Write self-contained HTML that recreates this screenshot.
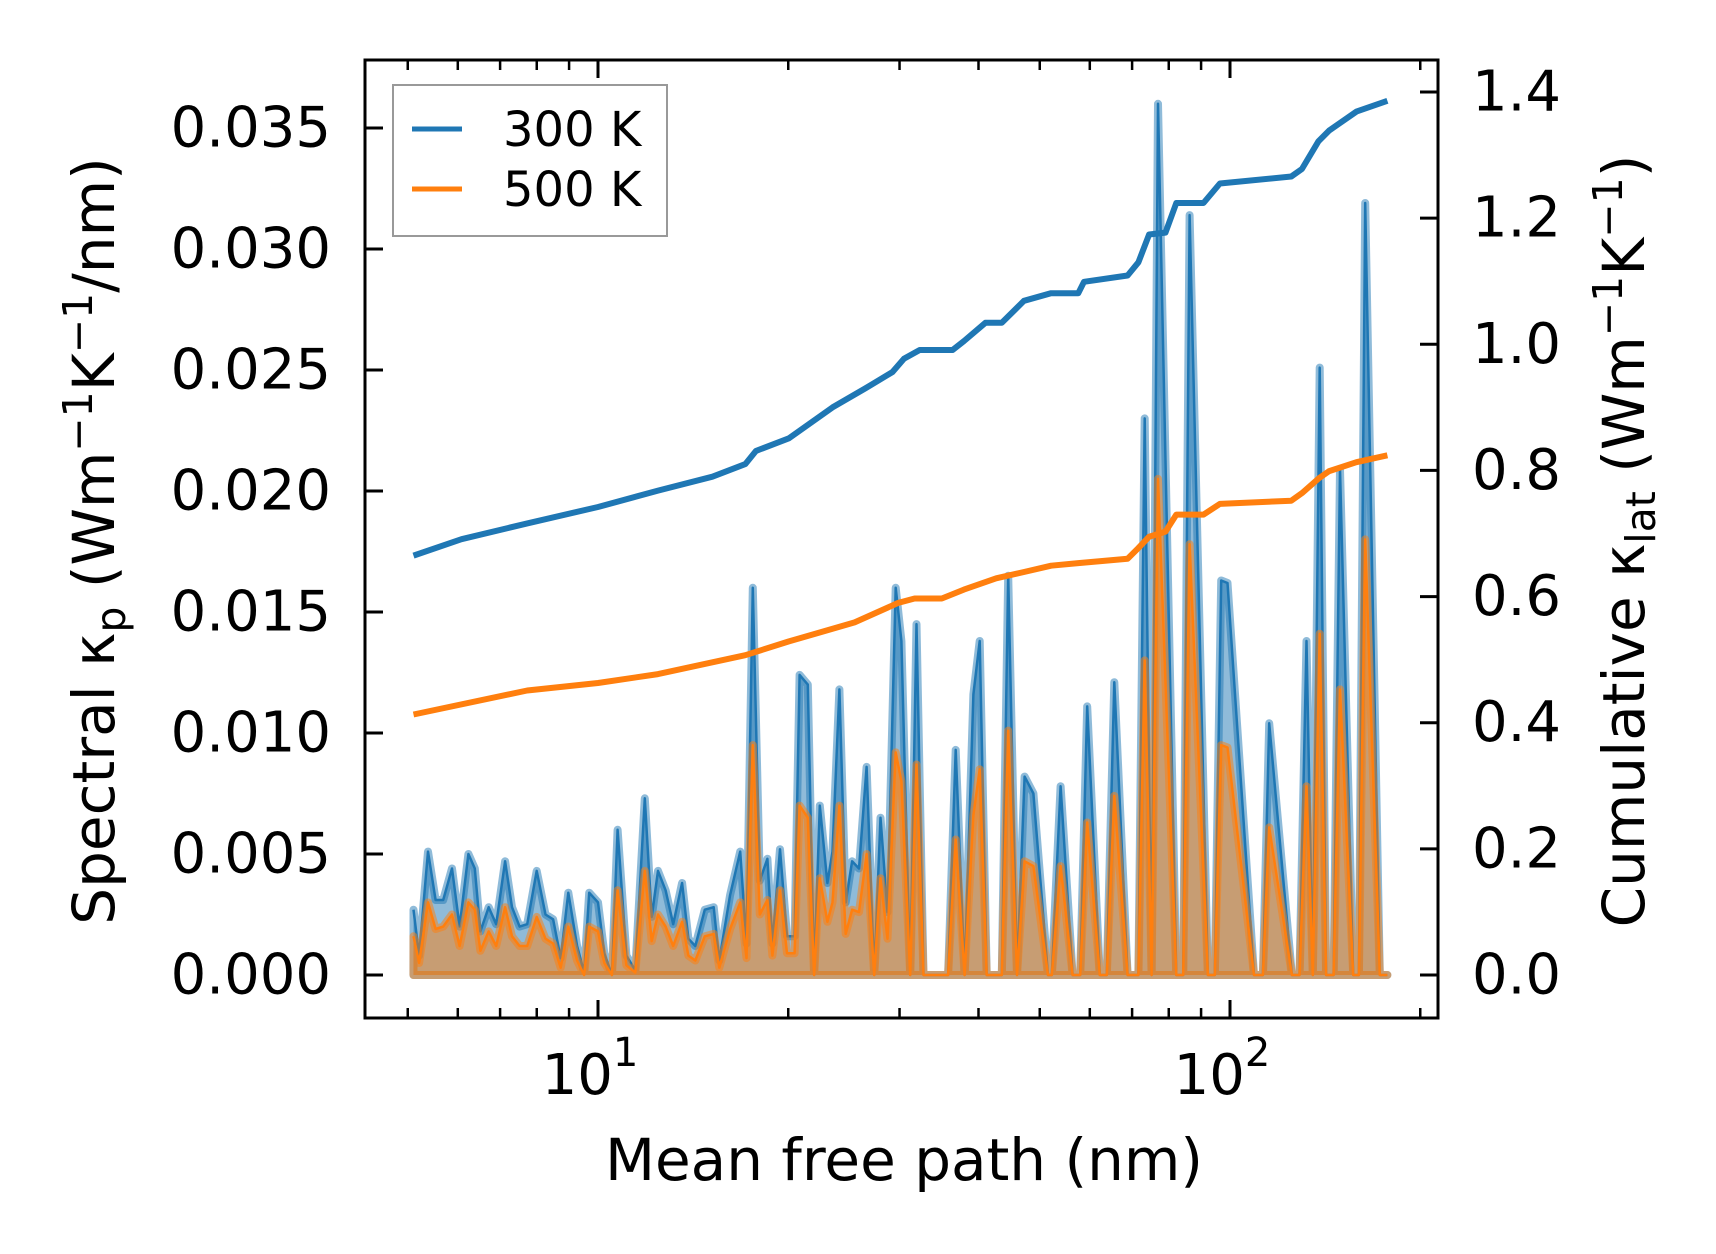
<!DOCTYPE html>
<html><head><meta charset="utf-8">
<style>
html,body{margin:0;padding:0;background:#fff;}
svg{display:block;font-family:"DejaVu Sans","Liberation Sans",sans-serif;}
</style></head>
<body>
<svg id="chart" width="1716" height="1254" viewBox="0 0 1716 1254" xmlns="http://www.w3.org/2000/svg">
<g id="plot"></g>
<g id="axes"></g>
<g id="legend">
  <rect x="393" y="85" width="274" height="151" fill="#fff" fill-opacity="0.8" stroke="#999" stroke-width="2"/>
  <line x1="412" y1="129" x2="462" y2="129" stroke="#1f77b4" stroke-width="5"/>
  <text x="503" y="146" font-size="48">300 K</text>
  <line x1="412" y1="189" x2="462" y2="189" stroke="#ff7f0e" stroke-width="5"/>
  <text x="503" y="206" font-size="48">500 K</text>
</g>
<text x="904" y="1180" font-size="58" text-anchor="middle">Mean free path (nm)</text>
<text transform="translate(114,541) rotate(-90)" font-size="58" text-anchor="middle">Spectral κ<tspan font-size="41" dy="11">p</tspan><tspan dy="-11"> (Wm</tspan><tspan font-size="41" dy="-22">−1</tspan><tspan dy="22">K</tspan><tspan font-size="41" dy="-22">−1</tspan><tspan dy="22">/nm)</tspan></text>
<text transform="translate(1644,541) rotate(-90)" font-size="58" text-anchor="middle">Cumulative κ<tspan font-size="41" dy="11">lat</tspan><tspan dy="-11"> (Wm</tspan><tspan font-size="41" dy="-22">−1</tspan><tspan dy="22">K</tspan><tspan font-size="41" dy="-22">−1</tspan><tspan dy="22">)</tspan></text>
</svg>
<script>
// Spectral data: log10(mean free path in nm), kappa spectral 300K, 500K
const specLogMfp = [0.708,0.717,0.731,0.743,0.755,0.769,0.781,0.795,0.805,0.814,0.827,0.839,0.853,0.864,0.876,0.888,0.903,0.917,0.929,0.941,0.953,0.967,0.978,0.986,1.000,1.010,1.022,1.031,1.045,1.059,1.074,1.085,1.095,1.107,1.119,1.133,1.143,1.154,1.169,1.183,1.192,1.209,1.225,1.235,1.245,1.256,1.268,1.276,1.288,1.299,1.311,1.319,1.332,1.342,1.351,1.363,1.371,1.382,1.392,1.402,1.413,1.425,1.437,1.447,1.458,1.471,1.480,1.494,1.504,1.515,1.554,1.566,1.580,1.594,1.604,1.615,1.639,1.649,1.663,1.675,1.689,1.712,1.718,1.732,1.751,1.763,1.774,1.794,1.805,1.817,1.838,1.855,1.865,1.876,1.886,1.915,1.926,1.936,1.965,1.976,1.986,1.996,2.038,2.052,2.062,2.098,2.110,2.121,2.131,2.142,2.152,2.164,2.174,2.195,2.204,2.214,2.237,2.249];
const spec300 = [0.0027,0.0008,0.0051,0.0031,0.0031,0.0044,0.0020,0.0050,0.0044,0.0018,0.0028,0.0021,0.0047,0.0028,0.0020,0.0021,0.0043,0.0025,0.0023,0.0007,0.0034,0.0012,0.0001,0.0034,0.0030,0.0009,0.0000,0.0060,0.0008,0.0002,0.0073,0.0024,0.0043,0.0035,0.0021,0.0038,0.0015,0.0012,0.0027,0.0028,0.0006,0.0033,0.0051,0.0013,0.0160,0.0039,0.0048,0.0013,0.0052,0.0016,0.0016,0.0124,0.0120,0.0000,0.0070,0.0038,0.0051,0.0118,0.0030,0.0047,0.0044,0.0086,0.0000,0.0065,0.0026,0.0160,0.0138,0.0000,0.0145,0.0000,0.0000,0.0093,0.0000,0.0116,0.0138,0.0000,0.0000,0.0165,0.0000,0.0082,0.0075,0.0000,0.0000,0.0078,0.0000,0.0000,0.0111,0.0000,0.0000,0.0121,0.0000,0.0000,0.0230,0.0000,0.0360,0.0000,0.0000,0.0314,0.0000,0.0000,0.0163,0.0162,0.0000,0.0000,0.0104,0.0000,0.0000,0.0138,0.0000,0.0251,0.0000,0.0000,0.0209,0.0000,0.0000,0.0319,0.0000,0.0000,0.0154];
const spec500 = [0.0016,0.0005,0.0030,0.0019,0.0020,0.0025,0.0012,0.0030,0.0027,0.0010,0.0018,0.0012,0.0028,0.0016,0.0012,0.0012,0.0024,0.0015,0.0013,0.0003,0.0020,0.0006,0.0000,0.0020,0.0018,0.0005,0.0000,0.0035,0.0004,0.0001,0.0043,0.0014,0.0025,0.0020,0.0012,0.0022,0.0008,0.0006,0.0016,0.0017,0.0003,0.0019,0.0030,0.0007,0.0095,0.0025,0.0031,0.0008,0.0035,0.0009,0.0009,0.0070,0.0065,0.0000,0.0040,0.0022,0.0030,0.0070,0.0017,0.0027,0.0026,0.0050,0.0000,0.0040,0.0015,0.0092,0.0080,0.0000,0.0087,0.0000,0.0000,0.0056,0.0000,0.0066,0.0085,0.0000,0.0000,0.0101,0.0000,0.0047,0.0045,0.0000,0.0000,0.0045,0.0000,0.0000,0.0063,0.0000,0.0000,0.0074,0.0000,0.0000,0.0130,0.0000,0.0205,0.0000,0.0000,0.0178,0.0000,0.0000,0.0095,0.0094,0.0000,0.0000,0.0061,0.0000,0.0000,0.0078,0.0000,0.0141,0.0000,0.0000,0.0118,0.0000,0.0000,0.0180,0.0000,0.0000,0.0089];
// Cumulative data
const cum300LogMfp = [0.708,0.784,0.888,1.000,1.095,1.181,1.233,1.250,1.302,1.371,1.423,1.466,1.484,1.509,1.561,1.579,1.613,1.639,1.674,1.717,1.760,1.769,1.838,1.855,1.872,1.898,1.915,1.958,1.984,2.097,2.114,2.140,2.157,2.200,2.249];
const cum300 = [0.665,0.691,0.716,0.742,0.768,0.790,0.810,0.831,0.851,0.900,0.930,0.956,0.977,0.991,0.991,1.005,1.034,1.034,1.069,1.081,1.081,1.099,1.109,1.130,1.174,1.177,1.224,1.224,1.255,1.266,1.278,1.322,1.339,1.369,1.386];
const cum500LogMfp = [0.708,0.888,1.000,1.095,1.233,1.302,1.406,1.475,1.501,1.544,1.579,1.630,1.674,1.717,1.760,1.838,1.855,1.872,1.898,1.915,1.958,1.984,2.097,2.114,2.140,2.157,2.200,2.249];
const cum500 = [0.413,0.451,0.463,0.477,0.507,0.529,0.559,0.590,0.597,0.597,0.611,0.629,0.639,0.649,0.653,0.660,0.677,0.695,0.703,0.730,0.730,0.747,0.752,0.764,0.787,0.799,0.813,0.824];
const leftTicks = [0,0.005,0.010,0.015,0.020,0.025,0.030,0.035];
const leftTickLabels = ["0.000","0.005","0.010","0.015","0.020","0.025","0.030","0.035"];
const rightTicks = [0,0.2,0.4,0.6,0.8,1.0,1.2,1.4];
const rightTickLabels = ["0.0","0.2","0.4","0.6","0.8","1.0","1.2","1.4"];
const xMajor = [1,2];
const xMinor = [5,6,7,8,9,20,30,40,50,60,70,80,90,200];

const L=365,R=1438,T=60,B=1018;
const X = lg => 598 + (lg-1)*632;
const YL = v => 975 - v/0.005*121;
const YR = v => 975 - v/1.4*(975-92);
const NS='http://www.w3.org/2000/svg';
const plot=document.getElementById('plot'), axes=document.getElementById('axes');
function mk(tag,attrs,parent){const e=document.createElementNS(NS,tag);for(const k in attrs)e.setAttribute(k,attrs[k]);parent.appendChild(e);return e;}

function spectral(vals,color,name){
  let pts=specLogMfp.map((l,i)=>X(l).toFixed(1)+','+YL(vals[i]).toFixed(1));
  const area='M'+X(specLogMfp[0])+','+YL(0)+' L'+pts.join(' L')+' L'+X(specLogMfp[specLogMfp.length-1])+','+YL(0)+' Z';
  const a=mk('path',{d:area,fill:color,'fill-opacity':0.5,stroke:color,'stroke-opacity':0.5,'stroke-width':8,'stroke-linejoin':'round'},plot);
  
  
  const l=mk('polyline',{points:pts.join(' '),fill:'none',stroke:color,'stroke-width':2.5,'stroke-linejoin':'round'},plot);
  
  
}
spectral(spec300,'#1f77b4','spectral-300k');
spectral(spec500,'#ff7f0e','spectral-500k');

function cumLine(xs,vs,color,name){
  const pts=xs.map((l,i)=>X(l).toFixed(1)+','+YR(vs[i]).toFixed(1)).join(' ');
  const p=mk('polyline',{points:pts,fill:'none',stroke:color,'stroke-width':6,'stroke-linejoin':'round'},plot);
  
  
}
cumLine(cum300LogMfp,cum300,'#1f77b4','cumulative-300k');
cumLine(cum500LogMfp,cum500,'#ff7f0e','cumulative-500k');

const fr=mk('rect',{x:L,y:T,width:R-L,height:B-T,fill:'none',stroke:'#000','stroke-width':3},axes);



leftTicks.forEach((v,i)=>{
  const y=YL(v);
  mk('line',{x1:L,y1:y,x2:L+18,y2:y,stroke:'#000','stroke-width':3},axes);
  const t=mk('text',{x:331,y:y,'font-size':56,'text-anchor':'end','dominant-baseline':'central'},axes);
  t.textContent=leftTickLabels[i];
  
  
});
rightTicks.forEach((v,i)=>{
  const y=YR(v);
  mk('line',{x1:R-18,y1:y,x2:R,y2:y,stroke:'#000','stroke-width':3},axes);
  const t=mk('text',{x:1472,y:y,'font-size':56,'text-anchor':'start','dominant-baseline':'central'},axes);
  t.textContent=rightTickLabels[i];
  
  
});
xMajor.forEach(e=>{
  const x=X(e);
  mk('line',{x1:x,y1:B,x2:x,y2:B-18,stroke:'#000','stroke-width':3},axes);
  mk('line',{x1:x,y1:T,x2:x,y2:T+18,stroke:'#000','stroke-width':3},axes);
  const t=mk('text',{x:x-8,y:1094,'font-size':56,'text-anchor':'middle'},axes);
  t.textContent='10';
  const s=mk('tspan',{'font-size':40,dy:-28},t);
  s.textContent=String(e);
  
  
});
xMinor.forEach(m=>{
  const x=X(Math.log10(m));
  mk('line',{x1:x,y1:B,x2:x,y2:B-10,stroke:'#000','stroke-width':2.5},axes);
  mk('line',{x1:x,y1:T,x2:x,y2:T+10,stroke:'#000','stroke-width':2.5},axes);
});
</script>
</body></html>
